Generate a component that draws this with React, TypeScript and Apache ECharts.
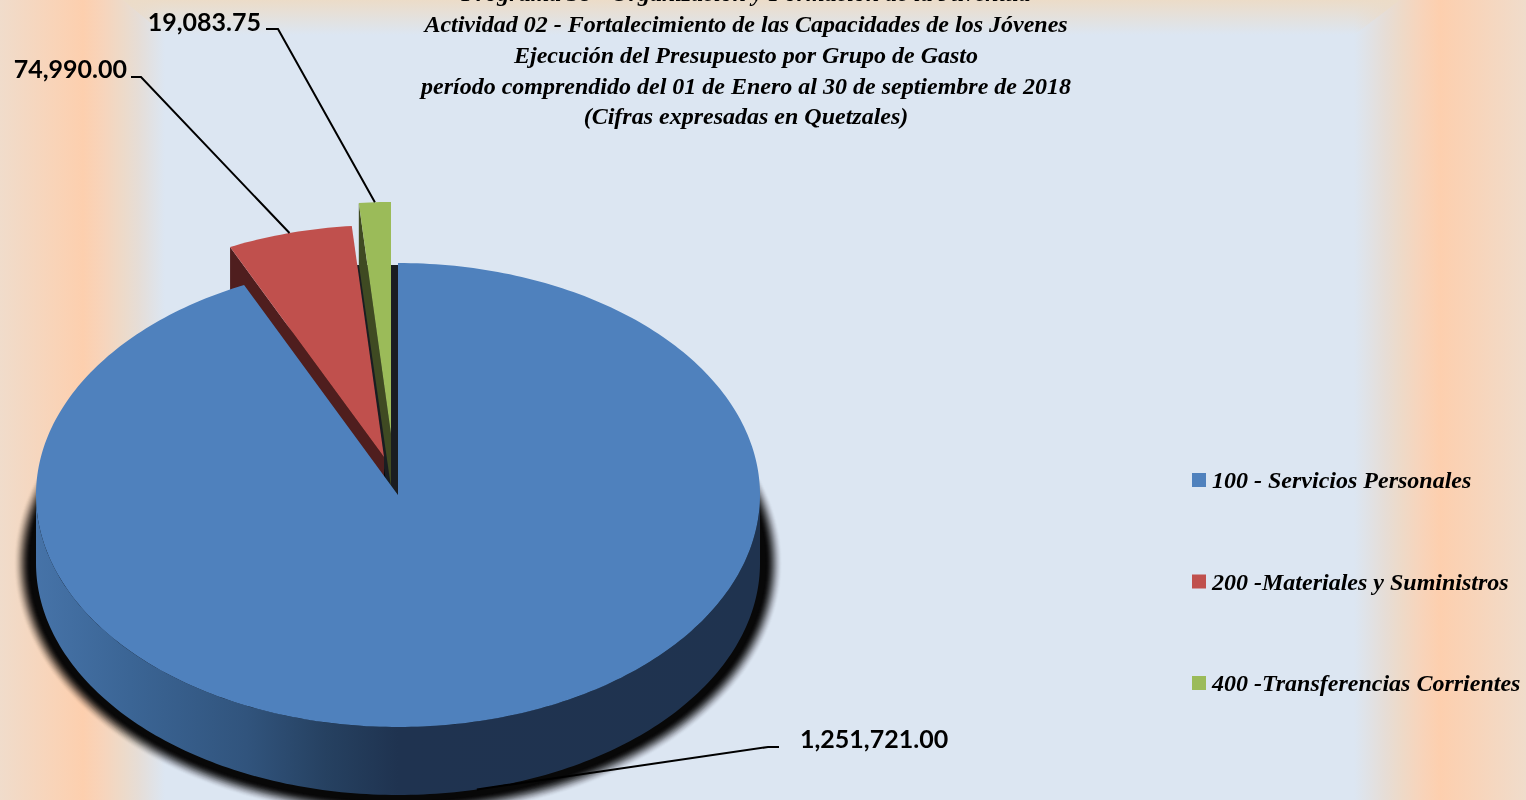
import React, { useEffect, useRef } from "react";
import * as echarts from "echarts";

const categories = ["100 - Servicios Personales", "200 -Materiales y Suministros", "400 -Transferencias Corrientes"];
const values = [1251721.0, 74990.0, 19083.75];
const valueLabels = ["1,251,721.00", "74,990.00", "19,083.75"];
const topColors = ["#4f81bd", "#c0504d", "#9bbb59"];
const titleLines = [
  "Programa 38 - Organización y Formación de la Juventud",
  "Actividad 02 - Fortalecimiento de las Capacidades de los Jóvenes",
  "Ejecución del Presupuesto por Grupo de Gasto",
  "período comprendido del 01 de Enero al 30 de septiembre de 2018",
  "(Cifras expresadas en Quetzales)",
];

const SCRIPT_FONT = "'Liberation Serif', serif";
const LABEL_FONT = "Lato, 'Open Sans', sans-serif";

// pie geometry
const CX = 398;
const CY = 495;
const RX = 362;
const RY = 232;
const DEPTH = 68;
const CUT_DEPTH_RIM = 61;
const CUT_DEPTH_APEX = 53;
const SHADOW_OUTER = 22;
const SHADOW_INNER = 6;
// how far each slice is pulled out of the pie, in pixels
const pull = [
  [0, 0],
  [-14, -38],
  [-7, -61],
];
// label elbows and text anchors
const labelLayout = [
  { elbow: [768, 747], end: [779, 747], text: [800, 738], align: "left" },
  { elbow: [141, 77], end: [131, 77], text: [127, 68], align: "right" },
  { elbow: [278, 29], end: [266, 29], text: [261, 21], align: "right" },
];

const total = values.reduce((a, b) => a + b, 0);
const rad = (d: number) => (d * Math.PI) / 180;
const sliceAngles = (() => {
  let acc = 0;
  return values.map((v) => {
    const start = (acc / total) * 360;
    acc += v;
    return [start, (acc / total) * 360];
  });
})();

// angle measured clockwise from the top of the ellipse
const rim = (cx: number, cy: number, deg: number, rx = RX, ry = RY) => [
  cx + rx * Math.sin(rad(deg)),
  cy - ry * Math.cos(rad(deg)),
];
const arc = (cx: number, cy: number, a: number, b: number, rx = RX, ry = RY) => {
  const n = Math.max(2, Math.ceil(Math.abs(b - a)));
  const out: number[][] = [];
  for (let i = 0; i <= n; i++) out.push(rim(cx, cy, a + ((b - a) * i) / n, rx, ry));
  return out;
};

const wallGradient = () =>
  new echarts.graphic.LinearGradient(0, 0, 1, 0, [
    { offset: 0, color: "#4673a8" },
    { offset: 0.13, color: "#3b6595" },
    { offset: 0.29, color: "#31547d" },
    { offset: 0.4, color: "#264161" },
    { offset: 0.5, color: "#1f3350" },
    { offset: 1, color: "#1f334f" },
  ]);

const poly = (points: number[][], fill: any, z2: number, extra: any = {}) => ({
  type: "polygon",
  z2,
  silent: true,
  shape: { points },
  style: { fill, ...extra },
});

// a soft edge built from nested ellipses, darker towards the pie
const softShadow = () => {
  const layers: any[] = [];
  const smooth = (t: number) => t * t * (3 - 2 * t);
  let prev = 0;
  for (let e = SHADOW_OUTER; e >= SHADOW_INNER; e--) {
    const c = e === SHADOW_INNER ? 1 : smooth((SHADOW_OUTER + 1 - e) / (SHADOW_OUTER + 1 - SHADOW_INNER));
    const alpha = 1 - (1 - c) / (1 - prev);
    prev = c;
    layers.push(
      poly(arc(CX, CY + DEPTH, 0, 360, RX + e, RY + e), `rgba(8,8,8,${alpha.toFixed(3)})`, 1)
    );
  }
  return layers;
};

const renderSlice = (params: any, api: any) => {
  const i = params.seriesIndex;
  const cx = CX + pull[i][0];
  const cy = CY + pull[i][1];
  const [a, b] = sliceAngles[i];
  const mid = (a + b) / 2;
  const children: any[] = [];
  const top = [[cx, cy], ...arc(cx, cy, a, b)];

  if (i === 0) {
    const ratio = api.value(0) / total;
    const end = ratio * 360;
    children.push(...softShadow());
    // curved outer wall of the front half
    const front = arc(cx, cy, 90, 270);
    const frontLow = arc(cx, cy + DEPTH, 270, 90);
    children.push(poly([...front, ...frontLow], wallGradient(), 2));
    // dark inner face showing through the gap
    const edge = rim(cx, cy, end);
    const k = 17 / (cy - edge[1]);
    children.push(
      poly(
        [
          [cx, cy],
          [cx + (edge[0] - cx) * k, cy - 17],
          [cx - 46, cy - 230],
          [cx, cy - 230],
        ],
        "#1a1d21",
        3
      )
    );
    children.push(poly(top, topColors[i], 20));
  } else if (i === 1) {
    const p = rim(cx, cy, a);
    children.push(
      poly(
        [p, [cx, cy], [cx, cy + DEPTH], [p[0], p[1] + DEPTH]],
        "#4f1e1e",
        4
      )
    );
    children.push(poly(top, topColors[i], 5));
  } else {
    const p = rim(cx, cy, a);
    children.push(
      poly([p, [cx, cy], [cx, cy + CUT_DEPTH_APEX], [p[0], p[1] + CUT_DEPTH_RIM]], "#3f4a22", 6)
    );
    children.push(poly(top, topColors[i], 7));
  }

  const anchor = rim(cx, cy + (i === 0 ? DEPTH : 0), mid);
  const lay = labelLayout[i];
  children.push({
    type: "polyline",
    z2: 30,
    silent: true,
    shape: { points: [anchor, lay.elbow, lay.end] },
    style: { fill: "none", stroke: "#000", lineWidth: 2 },
  });
  children.push({
    type: "text",
    z2: 31,
    silent: true,
    x: lay.text[0],
    y: lay.text[1],
    style: {
      text: valueLabels[i],
      fill: "#000",
      font: `bold 25px ${LABEL_FONT}`,
      align: lay.align,
      verticalAlign: "middle",
    },
  });
  return { type: "group", children };
};

const W = 1526;
const at = (x: number) => x / W;

export default function App() {
  const ref = useRef<HTMLDivElement>(null);

  useEffect(() => {
    document.body.style.margin = "0";
    const chart = echarts.init(ref.current!, null, { renderer: "svg" });
    chart.setOption({
      animation: false,
      color: topColors,
      graphic: [
        {
          type: "rect",
          z: -10,
          silent: true,
          shape: { x: 0, y: 0, width: W, height: 800 },
          style: {
            fill: new echarts.graphic.LinearGradient(0, 0, 1, 0, [
              { offset: 0, color: "#f0dccb" },
              { offset: at(83), color: "#fdcfae" },
              { offset: at(103), color: "#f7d4bb" },
              { offset: at(123), color: "#eddac9" },
              { offset: at(138), color: "#e6ddd6" },
              { offset: at(153), color: "#e0e2e6" },
              { offset: at(165), color: "#dce6f2" },
              { offset: at(1354), color: "#dce6f2" },
              { offset: at(1368), color: "#e0e2e6" },
              { offset: at(1385), color: "#e6ddd6" },
              { offset: at(1400), color: "#eddac9" },
              { offset: at(1420), color: "#f7d4bb" },
              { offset: at(1440), color: "#fdcfae" },
              { offset: 1, color: "#f0dccb" },
            ]),
          },
        },
        {
          type: "polygon",
          z: -9,
          silent: true,
          shape: {
            points: [
              [123, 0],
              [1400, 0],
              [1354, 35],
              [165, 35],
            ],
          },
          style: {
            fill: new echarts.graphic.LinearGradient(0, 0, 0, 1, [
              { offset: 0, color: "rgba(236,220,200,1)" },
              { offset: 1, color: "rgba(236,220,200,0)" },
            ]),
          },
        },
      ],
      title: {
        text: titleLines.join("\n"),
        left: 741,
        top: -27,
        textAlign: "center",
        textStyle: {
          fontFamily: SCRIPT_FONT,
          fontStyle: "italic",
          fontWeight: "bold",
          fontSize: 24,
          lineHeight: 30.75,
          color: "#000",
        },
      },
      legend: {
        orient: "vertical",
        left: 1192,
        top: 468,
        itemWidth: 14,
        itemHeight: 14,
        itemGap: 77.5,
        icon: "rect",
        padding: 0,
        selectedMode: false,
        data: categories,
        textStyle: {
          fontFamily: SCRIPT_FONT,
          fontStyle: "italic",
          fontWeight: "bold",
          fontSize: 24,
          lineHeight: 14,
          height: 14,
          padding: [0, 0, 0, 1],
          color: "#000",
        },
      },
      series: categories.map((name, i) => ({
        type: "custom",
        name,
        coordinateSystem: "none",
        silent: true,
        itemStyle: { color: topColors[i] },
        data: [[values[i]]],
        renderItem: renderSlice,
      })),
    });
    return () => chart.dispose();
  }, []);

  return <div ref={ref} style={{ position: "fixed", left: 0, top: 0, width: W, height: 800 }} />;
}
